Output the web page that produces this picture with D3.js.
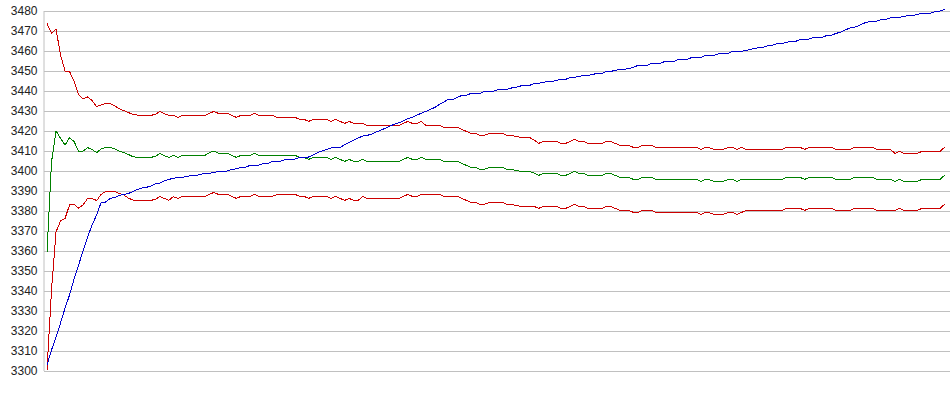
<!DOCTYPE html>
<html>
<head>
<meta charset="utf-8">
<script src="https://cdn.jsdelivr.net/npm/d3@7/dist/d3.min.js"></script>
<style>
  body { margin: 0; background: #fff; }
  svg { display: block; }
</style>
</head>
<body>
<svg id="chart" width="950" height="395"></svg>
<script>
// y axis ticks
var yTicks = [3300, 3310, 3320, 3330, 3340, 3350, 3360, 3370, 3380, 3390,
              3400, 3410, 3420, 3430, 3440, 3450, 3460, 3470, 3480];

// upper red
var upperRed = [
  3473.3, 3468.3, 3470.5, 3457.5, 3449.5, 3449.2, 3444.5, 3437.8, 3435.5, 3436.5,
  3434.7, 3431.7, 3432.5, 3433.2, 3433.2, 3432, 3430.7, 3429.7, 3428.8, 3427.8,
  3427.5, 3427.3, 3427.3, 3427.3, 3427.8, 3429.2, 3428.2, 3427.3, 3427.3, 3426.3,
  3427.3, 3427.3, 3427.3, 3427.3, 3427.3, 3427.3, 3428.3, 3429.3, 3428.3, 3428.3,
  3428.3, 3427.3, 3426.3, 3427.3, 3427.3, 3427.3, 3428.3, 3427.3, 3427.3, 3427.3,
  3427.3, 3426.3, 3426.3, 3426.3, 3426.3, 3426.3, 3425.3, 3425.3, 3424.3, 3425.3,
  3425.3, 3425.3, 3425.3, 3424.3, 3425.3, 3424.3, 3423.3, 3424.3, 3423.3, 3423.3,
  3423.3, 3422.3, 3422.3, 3422.3, 3422.3, 3422.3, 3422.3, 3422.3, 3422.3, 3423.3,
  3424.3, 3423.3, 3423.3, 3424.3, 3422.3, 3422.3, 3422.3, 3422.3, 3421.3, 3421.3,
  3421.3, 3421.3, 3420.3, 3419.3, 3418.3, 3418.3, 3417.3, 3417.3, 3418.3, 3418.3,
  3418.3, 3418.3, 3417.3, 3417.3, 3416.8, 3416.3, 3416.3, 3416.3, 3415, 3413.3,
  3414.3, 3414.3, 3414.3, 3414.3, 3413.3, 3413.3, 3414.3, 3415.3, 3414.3, 3414.3,
  3413.3, 3413.3, 3413.3, 3413.3, 3414.3, 3414.3, 3413.3, 3412.3, 3412.3, 3412.3,
  3411.3, 3411.3, 3412.3, 3412.3, 3412.3, 3411.3, 3411.3, 3411.3, 3411.3, 3411.3,
  3411.3, 3411.3, 3411.3, 3411.3, 3411.3, 3410.3, 3411.3, 3411, 3410.3, 3410.3,
  3410.3, 3411.3, 3411.3, 3410.3, 3411.3, 3410.3, 3410.3, 3410.3, 3410.3, 3410.3,
  3410.3, 3410.3, 3410.3, 3410.3, 3411.3, 3411.3, 3411.3, 3411.3, 3410.3, 3411.3,
  3411.3, 3411.3, 3411.3, 3411.3, 3411.3, 3410.3, 3410.3, 3410.3, 3410.3, 3411.3,
  3411.3, 3411.3, 3411.3, 3411.3, 3410.3, 3410.3, 3410.3, 3410.3, 3408.3, 3409.3,
  3408.3, 3408.3, 3408.3, 3408.3, 3409.3, 3409.3, 3409.3, 3409.3, 3409.3, 3411.3
];

// middle green
var middleGreen = [
  3359, 3404, 3419.5, 3415.8, 3412.5, 3416.2, 3414.2, 3409.5, 3409.5, 3411.2,
  3410.2, 3408.7, 3410.5, 3411.3, 3411.3, 3410.5, 3409.5, 3408.7, 3407.8, 3406.7,
  3406.3, 3406.3, 3406.3, 3406.3, 3406.8, 3408.2, 3407.2, 3406.3, 3407.3, 3406.3,
  3407.3, 3407.3, 3407.3, 3407.3, 3407.3, 3407.3, 3408.7, 3409.5, 3408.5, 3408.5,
  3408.5, 3407.2, 3406.3, 3407.3, 3407.3, 3407.3, 3408.3, 3407.3, 3407.3, 3407.3,
  3407.3, 3407.3, 3407.3, 3407.3, 3407.3, 3407.3, 3406.3, 3406.3, 3405.3, 3406.3,
  3406.3, 3406.3, 3406.3, 3405.3, 3406.3, 3405.3, 3404.3, 3405.3, 3404.3, 3404.3,
  3405.3, 3404.3, 3404.3, 3404.3, 3404.3, 3404.3, 3404.3, 3404.3, 3404.3, 3405.3,
  3406.3, 3405.3, 3405.3, 3406.3, 3405.3, 3405.3, 3405.3, 3405.3, 3404.3, 3404.3,
  3404.3, 3404.3, 3403.3, 3402.3, 3401.3, 3401.3, 3400.3, 3400.3, 3401.3, 3401.3,
  3401.3, 3401.3, 3400.3, 3400.3, 3399.8, 3399.3, 3399.3, 3399.3, 3398.5, 3397.3,
  3398.3, 3398.3, 3398.3, 3398.3, 3397.3, 3397.3, 3398.3, 3399.3, 3398.3, 3398.3,
  3397.3, 3397.3, 3397.3, 3397.3, 3398.3, 3398.3, 3397.3, 3396.3, 3396.3, 3396.3,
  3395.3, 3395.3, 3396.3, 3396.3, 3396.3, 3395.3, 3395.3, 3395.3, 3395.3, 3395.3,
  3395.3, 3395.3, 3395.3, 3395.3, 3395.3, 3394.3, 3395.3, 3395, 3394.3, 3394.3,
  3394.3, 3395.3, 3395.3, 3394.3, 3395.3, 3395.3, 3395.3, 3395.3, 3395.3, 3395.3,
  3395.3, 3395.3, 3395.3, 3395.3, 3396.3, 3396.3, 3396.3, 3396.3, 3395.3, 3396.3,
  3396.3, 3396.3, 3396.3, 3396.3, 3396.3, 3395.3, 3395.3, 3395.3, 3395.3, 3396.3,
  3396.3, 3396.3, 3396.3, 3396.3, 3395.3, 3395.3, 3395.3, 3395.3, 3394.3, 3395.3,
  3394.3, 3394.3, 3394.3, 3394.3, 3395.3, 3395.3, 3395.3, 3395.3, 3395.3, 3397.3
];

// lower red
var lowerRed = [
  3300, 3340, 3369, 3374.5, 3375.8, 3382.5, 3382.8, 3381, 3382.5, 3385.8,
  3385.8, 3384.7, 3387.8, 3389.2, 3389.2, 3389.2, 3388.3, 3387.5, 3386, 3385,
  3384.8, 3384.8, 3384.8, 3384.8, 3385.3, 3386.7, 3385.8, 3384.8, 3386.7, 3385.8,
  3386.8, 3386.8, 3386.8, 3386.8, 3386.8, 3386.8, 3387.8, 3388.8, 3387.8, 3387.8,
  3387.8, 3386.8, 3385.8, 3386.8, 3386.8, 3386.8, 3387.8, 3386.8, 3386.8, 3386.8,
  3386.8, 3387.8, 3387.8, 3387.8, 3387.8, 3387.8, 3386.8, 3386.8, 3385.8, 3386.8,
  3386.8, 3386.8, 3386.8, 3385.8, 3386.8, 3385.8, 3384.8, 3385.8, 3384.8, 3384.8,
  3386.8, 3385.8, 3385.8, 3385.8, 3385.8, 3385.8, 3385.8, 3385.8, 3385.8, 3386.8,
  3387.8, 3386.8, 3386.8, 3387.8, 3387.8, 3387.8, 3387.8, 3387.8, 3386.8, 3386.8,
  3386.8, 3386.8, 3385.8, 3384.8, 3383.8, 3383.8, 3382.8, 3382.8, 3383.8, 3383.8,
  3383.8, 3383.8, 3382.8, 3382.8, 3382.3, 3381.8, 3381.8, 3381.8, 3381.8, 3380.8,
  3381.8, 3381.8, 3381.8, 3381.8, 3380.8, 3380.8, 3381.8, 3382.8, 3381.8, 3381.8,
  3380.8, 3380.8, 3380.8, 3380.8, 3381.8, 3381.8, 3380.8, 3379.8, 3379.8, 3379.8,
  3378.8, 3378.8, 3379.8, 3379.8, 3379.8, 3378.8, 3378.8, 3378.8, 3378.8, 3378.8,
  3378.8, 3378.8, 3378.8, 3378.8, 3378.8, 3377.8, 3378.8, 3378.5, 3377.8, 3377.8,
  3377.8, 3378.8, 3378.8, 3377.8, 3378.8, 3379.8, 3379.8, 3379.8, 3379.8, 3379.8,
  3379.8, 3379.8, 3379.8, 3379.8, 3380.8, 3380.8, 3380.8, 3380.8, 3379.8, 3380.8,
  3380.8, 3380.8, 3380.8, 3380.8, 3380.8, 3379.8, 3379.8, 3379.8, 3379.8, 3380.8,
  3380.8, 3380.8, 3380.8, 3380.8, 3379.8, 3379.8, 3379.8, 3379.8, 3379.8, 3380.8,
  3379.8, 3379.8, 3379.8, 3379.8, 3380.8, 3380.8, 3380.8, 3380.8, 3380.8, 3382.8
];

// blue
var blueLine = [
  3302.5, 3310, 3316.5, 3323.5, 3331, 3337.5, 3345.5, 3352.5, 3359.5, 3366.5,
  3372.5, 3377.5, 3383.8, 3384, 3385.8, 3386.2, 3387.2, 3387.8, 3388.2, 3389.2,
  3390.2, 3391, 3391.3, 3392, 3393, 3393.5, 3394.5, 3395.3, 3395.8, 3396.3,
  3396.3, 3396.8, 3397.3, 3397.3, 3397.8, 3398.3, 3398.3, 3398.8, 3399.3, 3399.3,
  3399.5, 3400.3, 3400.6, 3401.3, 3401.3, 3402.3, 3402.3, 3402.5, 3403.3, 3403.3,
  3404.3, 3404.3, 3404.5, 3405.3, 3405.3, 3405.5, 3406.3, 3406.3, 3406.5, 3407.5,
  3408.7, 3409.5, 3410.3, 3411, 3411.3, 3411.3, 3412.7, 3413.8, 3415, 3416,
  3417, 3417.3, 3418, 3419, 3419.9, 3420.9, 3421.9, 3422.9, 3423.6, 3424.5,
  3425.6, 3426.4, 3427.4, 3428.4, 3429.3, 3430.3, 3431.3, 3432.8, 3434, 3435.3,
  3435.3, 3436.3, 3437.3, 3437.3, 3438.3, 3438.3, 3438.3, 3439.3, 3439.3, 3439.3,
  3440.3, 3440.3, 3440.3, 3441, 3441.3, 3442, 3442.3, 3442.3, 3443.3, 3443.3,
  3443.8, 3444.3, 3444.3, 3444.8, 3445.3, 3445.3, 3446.3, 3446.3, 3446.8, 3447.3,
  3447.3, 3447.8, 3448.3, 3448.3, 3449.3, 3449.3, 3449.8, 3450.3, 3450.3, 3450.8,
  3451.3, 3452.3, 3452.3, 3452.3, 3453.3, 3453.3, 3453.3, 3454.3, 3454.3, 3454.3,
  3455.3, 3455.3, 3455.3, 3456.3, 3456.3, 3456.3, 3457.3, 3457.3, 3457.3, 3458.3,
  3458.3, 3458.3, 3459.3, 3459.3, 3459.3, 3459.8, 3460.3, 3460.8, 3461.3, 3461.5,
  3462.3, 3462.5, 3463.3, 3463.3, 3463.8, 3464.3, 3464.3, 3465.3, 3465.3, 3465.5,
  3466.3, 3466.3, 3466.5, 3467.3, 3467.5, 3468.3, 3469, 3470, 3471, 3471.3,
  3472.2, 3473.3, 3474, 3474.3, 3474.5, 3475.3, 3475.3, 3476, 3476.3, 3476.3,
  3476.8, 3477.3, 3477.3, 3477.8, 3478.3, 3478.3, 3478.5, 3479.3, 3479.5, 3480.3
];

var width = 950, height = 395;
var margin = { left: 43, top: 10, bottom: 25 };

var svg = d3.select("#chart");

var xScale = d3.scaleLinear()
    .domain([0, blueLine.length - 1])
    .range([47, 944.5]);

var yScale = d3.scaleLinear()
    .domain([3300, 3480])
    .range([height - margin.bottom, margin.top]);

// grid + labels
var yAxis = svg.append("g")
    .attr("transform", "translate(" + (margin.left + 0.5) + ",0.5)")
    .call(d3.axisLeft(yScale)
        .tickValues(yTicks)
        .tickFormat(d3.format("d"))
        .tickSize(-(width - margin.left))
        .tickSizeOuter(0)
        .tickPadding(6));

yAxis.select(".domain").attr("stroke", "#c0c0c0");
yAxis.selectAll(".tick line").attr("stroke", "#c0c0c0").attr("shape-rendering", "crispEdges");
yAxis.selectAll(".tick text")
    .attr("fill", "#222")
    .style("font-family", "'Liberation Sans', Arial, sans-serif")
    .style("font-size", "12px");

var line = d3.line()
    .x(function (d, i) { return xScale(i); })
    .y(function (d) { return yScale(d); });

var series = [
    { values: upperRed, color: "#cc0000" },
    { values: middleGreen, color: "#008000" },
    { values: lowerRed, color: "#cc0000" },
    { values: blueLine, color: "#0000cc" }
];

series.forEach(function (s) {
    svg.append("path")
        .datum(s.values)
        .attr("d", line)
        .attr("fill", "none")
        .attr("stroke", s.color)
        .attr("stroke-width", 1)
        .attr("shape-rendering", "crispEdges");
});
</script>
</body>
</html>
